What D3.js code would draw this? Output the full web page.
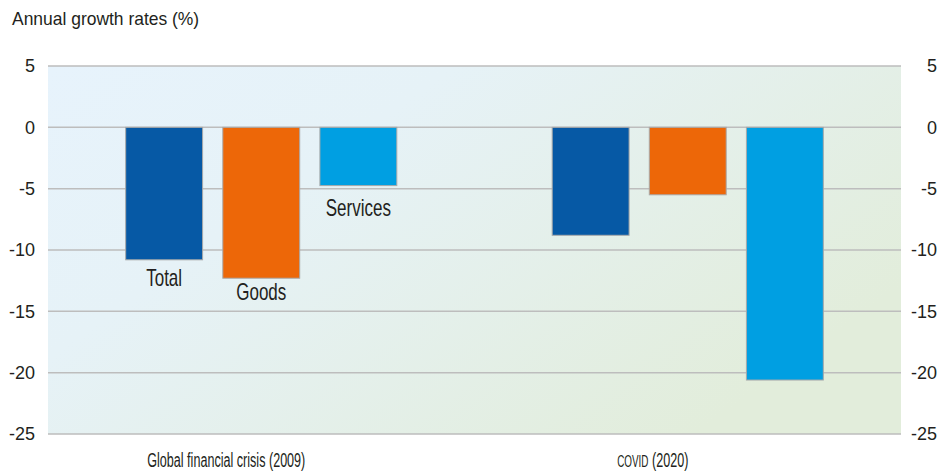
<!DOCTYPE html>
<html>
<head>
<meta charset="utf-8">
<script src="https://cdn.jsdelivr.net/npm/d3@7"></script>
<style>
  body { margin: 0; background: #fff; }
  svg { display: block; }
  text { font-family: "Liberation Sans", Arial, sans-serif; fill: #231f20; }
</style>
</head>
<body>
<div id="chart"></div>
<script>
const crises = ["Global financial crisis (2009)", "COVID (2020)"];
const series = ["Total", "Goods", "Services"];
const values = [
  [-10.8, -12.3, -4.75],
  [-8.8, -5.5, -20.6]
];
const yTicks = [5, 0, -5, -10, -15, -20, -25];
const colors = ["#0659a5", "#ed6708", "#009fe2"];
// vertical gap from bar end to label baseline (hand placed in the original)
const labelOffsets = [26, 22, 30];

const width = 942;
const height = 475;
const margin = { top: 66, right: 41, bottom: 41, left: 48 };

const svg = d3.select("#chart")
  .append("svg")
  .attr("width", width)
  .attr("height", height);

const defs = svg.append("defs");
const grad = defs.append("linearGradient")
  .attr("id", "bg")
  .attr("x1", "0%").attr("y1", "0%")
  .attr("x2", "100%").attr("y2", "60%");
grad.append("stop").attr("offset", "0%").attr("stop-color", "#e7f3fc");
grad.append("stop").attr("offset", "35%").attr("stop-color", "#e6f2f7");
grad.append("stop").attr("offset", "100%").attr("stop-color", "#e2eddb");

const x0 = d3.scaleBand()
  .domain(crises)
  .range([margin.left, width - margin.right]);

const x1 = d3.scaleBand()
  .domain(series)
  .range([0, x0.bandwidth()])
  .paddingInner(0.208)
  .paddingOuter(0.8);

const y = d3.scaleLinear()
  .domain([-25, 5])
  .range([height - margin.bottom, margin.top]);

// plot background
svg.append("rect")
  .attr("x", margin.left)
  .attr("y", y(5))
  .attr("width", width - margin.left - margin.right)
  .attr("height", y(-25) - y(5))
  .attr("fill", "url(#bg)");

// gridlines
svg.append("g")
  .selectAll("line")
  .data(yTicks)
  .join("line")
  .attr("x1", margin.left)
  .attr("x2", width - margin.right)
  .attr("y1", d => y(d))
  .attr("y2", d => y(d))
  .attr("stroke", "#bdbdbd")
  .attr("stroke-width", 1.5);

// left and right tick labels
[margin.left - 13, width - 5].forEach(xPos => {
  svg.append("g")
    .selectAll("text")
    .data(yTicks)
    .join("text")
    .attr("font-size", 18)
    .attr("x", xPos)
    .attr("y", d => y(d))
    .attr("dy", "0.35em")
    .attr("text-anchor", "end")
    .text(d => d);
});

// bars
const groups = svg.append("g")
  .selectAll("g")
  .data(crises)
  .join("g")
  .attr("transform", d => `translate(${x0(d)},0)`);

groups.selectAll("rect")
  .data((d, i) => series.map((s, j) => ({ s, v: values[i][j], c: colors[j] })))
  .join("rect")
  .attr("x", d => x1(d.s))
  .attr("width", x1.bandwidth())
  .attr("y", d => y(Math.max(0, d.v)))
  .attr("height", d => Math.abs(y(d.v) - y(0)))
  .attr("fill", d => d.c)
  .attr("stroke", "#a9a9a9")
  .attr("stroke-width", 1);

// condensed look: squeeze glyphs horizontally
const narrowText = (sel, sx) => sel
  .attr("transform", d => `translate(${d.x},${d.y}) scale(${sx},1)`)
  .attr("text-anchor", "middle");

// series labels under the first group's bars
const firstGroup = crises[0];
svg.append("g")
  .selectAll("text")
  .data(series.map((s, j) => ({
    s,
    x: x0(firstGroup) + x1(s) + x1.bandwidth() / 2,
    y: y(values[0][j]) + labelOffsets[j]
  })))
  .join("text")
  .attr("font-size", 23)
  .call(narrowText, 0.74)
  .text(d => d.s);

// category labels
const catLabels = svg.append("g")
  .selectAll("text")
  .data(crises.map(c => ({ c, x: x0(c) + x0.bandwidth() * 0.418, y: height - 8 })))
  .join("text")
  .attr("font-size", 21)
  .call(narrowText, 0.6);

catLabels.each(function (d) {
  const t = d3.select(this);
  if (d.c.startsWith("COVID")) {
    t.append("tspan").attr("font-size", 16.5).text("COVID");
    t.append("tspan").text(d.c.slice(5));
  } else {
    t.text(d.c);
  }
});

// axis title
svg.append("text")
  .attr("font-size", 18)
  .attr("transform", "translate(12,25) scale(0.97,1)")
  .text("Annual growth rates (%)");
</script>
</body>
</html>
